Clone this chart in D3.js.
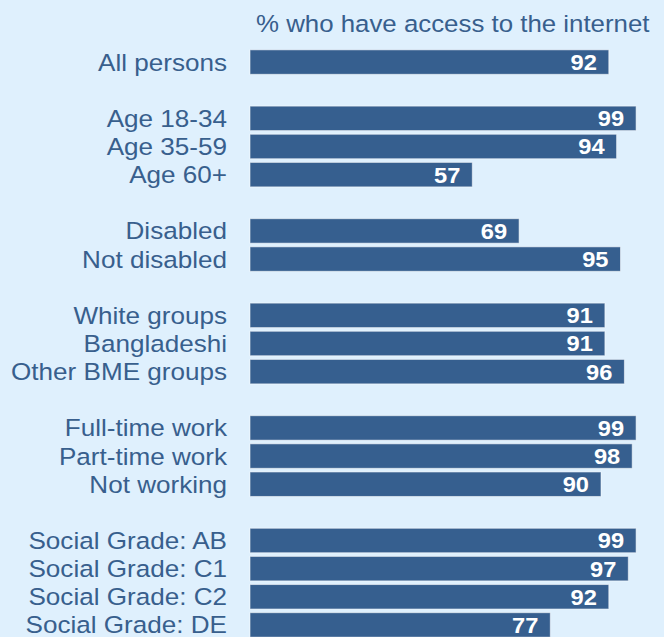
<!DOCTYPE html>
<html>
<head>
<meta charset="utf-8">
<script src="https://cdn.jsdelivr.net/npm/d3@7"></script>
<style>
  html, body { margin: 0; padding: 0; background: #dff0fd; }
  svg { display: block; }
</style>
</head>
<body>
<script>
var width = 664, height = 637;

// groups of categories, one blank row between each group
var groups = [
  ["All persons"],
  ["Age 18-34", "Age 35-59", "Age 60+"],
  ["Disabled", "Not disabled"],
  ["White groups", "Bangladeshi", "Other BME groups"],
  ["Full-time work", "Part-time work", "Not working"],
  ["Social Grade: AB", "Social Grade: C1", "Social Grade: C2", "Social Grade: DE"]
];
var values = [
  [92],
  [99, 94, 57],
  [69, 95],
  [91, 91, 96],
  [99, 98, 90],
  [99, 97, 92, 77]
];
var title = "% who have access to the internet";

var rows = [];
groups.forEach(function(g, gi) {
  if (gi > 0) { rows.push("blank" + gi); }
  g.forEach(function(c) {
    rows.push(c);
  });
});
var data = [];
groups.forEach(function(g, gi) {
  g.forEach(function(c, i) {
    data.push({ cat: c, value: values[gi][i] });
  });
});

var textColor = "#385f8d";
var barColor = "#365f8f";
var font = "Liberation Sans, Arial, sans-serif";

var x = d3.scaleLinear().domain([0, 100]).range([250, 640]);
var y = d3.scaleBand().domain(rows).range([48, 639]).paddingInner(0.13).paddingOuter(0.065);

var svg = d3.select("body").append("svg")
  .attr("width", width)
  .attr("height", height);

svg.append("rect")
  .attr("width", width).attr("height", height)
  .attr("fill", "#dff0fd");

svg.append("text")
  .attr("transform", "translate(256,32) scale(1.1,1)")
  .attr("font-family", font)
  .attr("font-size", 23.5)
  .attr("fill", textColor)
  .text(title);

var row = svg.selectAll(".row")
  .data(data)
  .enter().append("g")
  .attr("class", "row");

row.append("rect")
  .attr("x", x(0))
  .attr("y", function(d) { return y(d.cat); })
  .attr("width", function(d) { return x(d.value) - x(0); })
  .attr("height", y.bandwidth())
  .attr("fill", barColor)
  .attr("stroke", "#ffffff")
  .attr("stroke-opacity", 0.55)
  .attr("stroke-width", 1);

row.append("text")
  .attr("transform", function(d) {
    return "translate(227," + (y(d.cat) + y.bandwidth() / 2) + ") scale(1.11,1)";
  })
  .attr("dy", "0.36em")
  .attr("text-anchor", "end")
  .attr("font-family", font)
  .attr("font-size", 23.5)
  .attr("fill", textColor)
  .text(function(d) { return d.cat; });

row.append("text")
  .attr("transform", function(d) {
    return "translate(" + (x(d.value) - 12) + "," + (y(d.cat) + y.bandwidth() / 2) + ") scale(1.1,1)";
  })
  .attr("dy", "0.37em")
  .attr("text-anchor", "end")
  .attr("font-family", font)
  .attr("font-weight", "bold")
  .attr("font-size", 21.5)
  .attr("fill", "#ffffff")
  .text(function(d) { return d.value; });
</script>
</body>
</html>
